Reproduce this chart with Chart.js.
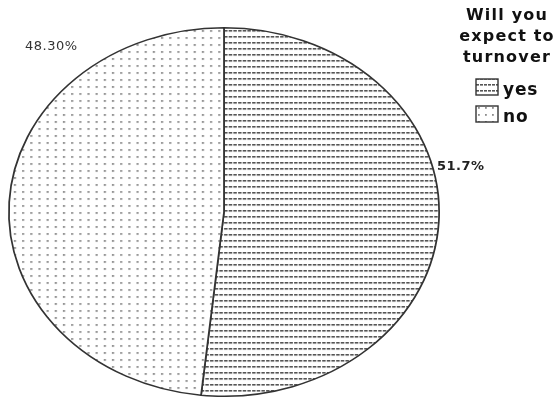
<!DOCTYPE html>
<html>
<head>
<meta charset="utf-8">
<script src="https://cdn.jsdelivr.net/npm/chart.js@4/dist/chart.umd.min.js"></script>
<style>
  html, body { margin: 0; padding: 0; background: #fff; }
  canvas { display: block; }
</style>
</head>
<body>
<canvas id="pieChart" width="560" height="397"></canvas>
<script>
const categories = ['yes', 'no'];
const shares = [51.7, 48.3];
const shareLabels = ['51.7%', '48.30%'];
const legendTitle = ['Will you', 'expect to', 'turnover'];

// fill textures like the old print
function makePattern(kind) {
  const c = document.createElement('canvas');
  const p = c.getContext('2d');
  if (kind === 'lines') {
    c.width = 4; c.height = 6;
    p.fillStyle = '#fff';
    p.fillRect(0, 0, 4, 6);
    p.fillStyle = '#555';
    p.fillRect(0, 0, 3, 1.6);
  } else {
    c.width = 7; c.height = 7;
    p.fillStyle = '#fff';
    p.fillRect(0, 0, 7, 7);
    p.fillStyle = '#8c8c8c';
    p.fillRect(2, 2, 1.8, 1.8);
  }
  return p.createPattern(c, 'repeat');
}

const stretchX = 216 / 185;

// pie is drawn circular by the library, then stretched into the ellipse
const stretchPlugin = {
  id: 'stretch',
  beforeDatasetsDraw(chart) {
    const arc = chart.getDatasetMeta(0).data[0];
    const ctx = chart.ctx;
    ctx.save();
    ctx.translate(arc.x, arc.y);
    ctx.scale(stretchX, 1);
    ctx.translate(-arc.x, -arc.y);
  },
  afterDatasetsDraw(chart) {
    chart.ctx.restore();
  }
};

const labelPlugin = {
  id: 'labels',
  afterDraw(chart) {
    const ctx = chart.ctx;
    ctx.save();
    ctx.fillStyle = '#222';
    ctx.textBaseline = 'middle';
    ctx.textAlign = 'left';
    ctx.font = 'bold 13px "DejaVu Sans"';
    ctx.letterSpacing = '0.5px';
    ctx.fillText(shareLabels[0], 437, 167);
    ctx.fillStyle = '#333';
    ctx.font = '13px "DejaVu Sans"';
    ctx.letterSpacing = '0.5px';
    ctx.fillText(shareLabels[1], 25, 47);

    // legend
    ctx.fillStyle = '#111';
    ctx.textAlign = 'center';
    ctx.font = 'bold 16px "DejaVu Sans"';
    ctx.letterSpacing = '1.2px';
    legendTitle.forEach((t, i) => ctx.fillText(t, 507, 16 + i * 21));
    ctx.textAlign = 'left';
    ctx.font = 'bold 17px "DejaVu Sans"';
    ctx.letterSpacing = '0.8px';
    const fills = chart.data.datasets[0].backgroundColor;
    categories.forEach((name, i) => {
      const y = 79 + i * 27;
      ctx.fillStyle = fills[i];
      ctx.fillRect(476, y, 22, 16);
      ctx.strokeStyle = '#333';
      ctx.lineWidth = 1.4;
      ctx.strokeRect(476, y, 22, 16);
      ctx.fillStyle = '#111';
      ctx.fillText(name, 503, y + 12);
    });
    ctx.restore();
  }
};

new Chart(document.getElementById('pieChart').getContext('2d'), {
  type: 'pie',
  data: {
    labels: categories,
    datasets: [{
      data: shares,
      backgroundColor: [makePattern('lines'), makePattern('dots')],
      borderColor: '#333',
      borderWidth: 1.5
    }]
  },
  options: {
    responsive: false,
    animation: false,
    layout: { padding: { top: 27, bottom: -1, left: 0, right: 112 } },
    plugins: {
      legend: { display: false },
      tooltip: { enabled: false }
    }
  },
  plugins: [stretchPlugin, labelPlugin]
});
</script>
</body>
</html>
